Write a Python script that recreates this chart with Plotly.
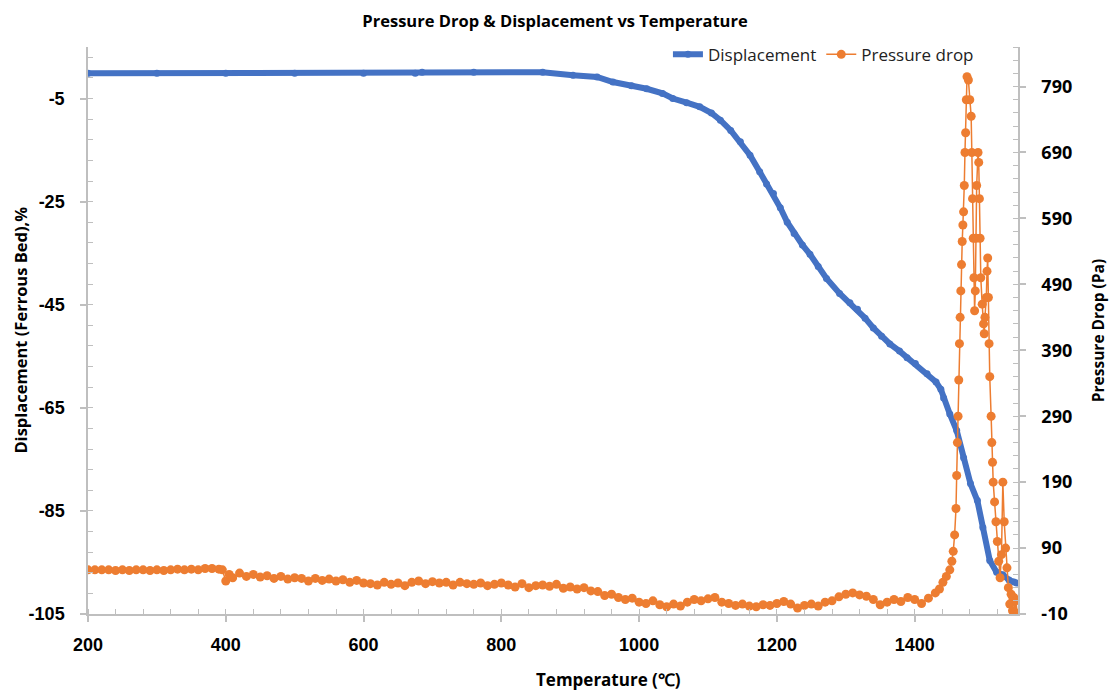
import plotly.graph_objects as go

# Displacement of the ferrous bed (%) against temperature (°C)
disp_temp = [200, 300, 400, 500, 600, 675, 685, 760, 860, 904, 939, 962, 989, 1011,
             1034, 1049, 1069, 1088, 1105, 1118, 1133, 1147, 1161, 1175, 1185, 1195,
             1205, 1215, 1225, 1237, 1248, 1260, 1272, 1291, 1306, 1317, 1328, 1340,
             1352, 1364, 1378, 1389, 1401, 1418, 1431, 1438, 1442, 1451, 1461, 1471,
             1481, 1491, 1499, 1509, 1519, 1528, 1537, 1544, 1548]
disp_val = [-0.1, -0.1, -0.1, -0.1, -0.1, -0.1, 0.1, 0.1, 0.1, -0.5, -0.8, -1.8, -2.5, -3.1,
            -4.0, -5.0, -5.8, -6.6, -7.8, -9.2, -11.2, -13.4, -16.0, -19.2, -21.6, -23.4,
            -26.2, -29.0, -31.2, -33.4, -35.2, -37.6, -39.9, -42.8, -44.6, -45.9, -47.6, -49.5,
            -51.1, -52.6, -54.0, -55.3, -56.4, -58.4, -60.0, -61.4, -63.1, -66.2, -69.4, -74.7,
            -79.7, -83.0, -88.2, -94.6, -96.9, -97.4, -98.4, -98.8, -99.0]

# Pressure drop across the bed (Pa) against temperature (°C)
dp_temp = [200, 210, 220, 230, 240, 250, 260, 270, 280, 290, 300, 310, 320, 330, 340, 350,
           360, 370, 380, 390, 395, 400, 405, 410, 420, 430, 440, 450, 460, 470, 480, 490,
           500, 510, 520, 530, 540, 550, 560, 570, 580, 590, 600, 610, 620, 630, 640, 650,
           660, 670, 680, 690, 700, 710, 720, 730, 740, 750, 760, 770, 780, 790, 800, 810,
           820, 830, 840, 850, 860, 870, 880, 890, 900, 910, 920, 930, 940, 950, 960, 970,
           980, 990, 1000, 1010, 1020, 1030, 1040, 1050, 1060, 1070, 1080, 1090, 1100, 1110,
           1120, 1130, 1140, 1150, 1160, 1170, 1180, 1190, 1200, 1210, 1220, 1230, 1240, 1250,
           1260, 1270, 1280, 1290, 1300, 1310, 1320, 1330, 1340, 1350, 1360, 1370, 1380, 1390,
           1400, 1410, 1420, 1430, 1436, 1441, 1446, 1451, 1454, 1456, 1458, 1460, 1461, 1462,
           1463, 1464, 1465, 1466, 1467, 1468, 1469, 1470, 1471, 1472, 1473, 1474, 1475, 1476,
           1478, 1480, 1482, 1483, 1484, 1485, 1486, 1487, 1488, 1489, 1490, 1492, 1493, 1494,
           1495, 1496, 1498, 1500, 1501, 1502, 1504, 1505, 1506, 1507, 1508, 1509, 1511, 1512,
           1513, 1514, 1516, 1518, 1520, 1522, 1524, 1526, 1528, 1530, 1532, 1534, 1536, 1538,
           1540, 1542, 1544, 1546, 1547, 1549]
dp_val = [57, 57, 57, 57, 56, 57, 56, 57, 57, 56, 57, 56, 57, 58, 57, 58,
          57, 59, 59, 58, 57, 40, 50, 45, 52, 47, 50, 46, 48, 44, 47, 43,
          45, 44, 40, 44, 41, 43, 40, 42, 38, 41, 37, 36, 34, 38, 35, 37,
          33, 38, 40, 36, 39, 37, 38, 34, 38, 36, 35, 37, 33, 35, 37, 34,
          31, 36, 30, 33, 34, 32, 35, 29, 31, 28, 30, 25, 24, 18, 20, 15,
          12, 14, 8, 6, 10, 4, 1, 5, 2, 8, 12, 10, 13, 15,
          8, 6, 3, 5, 2, 1, 4, 3, 6, 9, 5, -1, 3, 5,
          2, 8, 10, 16, 20, 22, 19, 17, 12, 4, 8, 12, 9, 15,
          12, 6, 14, 22, 28, 38, 47, 57, 70, 85, 110, 150, 200, 250,
          290, 345, 400, 440, 480, 520, 555, 580, 600, 640, 690, 720, 770, 805,
          800, 770, 745, 690, 620, 560, 500, 450, 480, 560, 640, 690, 675, 620,
          560, 500, 460, 430, 415, 440, 470, 510, 530, 470, 400, 350, 290, 250,
          220, 190, 160, 130, 100, 70, 45, 80, 190, 130, 90, 60, 30, 5,
          20, -5, 15, -8, 10, -10]

# Axis tick values and their printed labels
x_ticks = [200, 400, 600, 800, 1000, 1200, 1400]
disp_ticks = [-105, -85, -65, -45, -25, -5]
disp_tick_text = ["-105", "-85", "-65", "-45", "-25", "-5"]
dp_ticks = [-10, 90, 190, 290, 390, 490, 590, 690, 790]
dp_tick_text = ["-10", "90", "190", "290", "390", "490", "590", "690", "790"]

BLUE = "#4472C4"
ORANGE = "#ED7D31"
AXIS_GREY = "#BFBFBF"

fig = go.Figure()

fig.add_trace(go.Scatter(
    x=disp_temp, y=disp_val, name="Displacement",
    mode="lines+markers",
    line=dict(color=BLUE, width=6),
    marker=dict(color=BLUE, size=7),
    yaxis="y",
))

fig.add_trace(go.Scatter(
    x=dp_temp, y=dp_val, name="Pressure drop",
    mode="lines+markers",
    line=dict(color=ORANGE, width=1.5),
    marker=dict(color=ORANGE, size=9),
    yaxis="y2",
))


def bold(labels):
    return ["<b>%s</b>" % s for s in labels]


fig.update_layout(
    width=1110, height=691,
    margin=dict(l=88, r=92, t=47, b=77, autoexpand=False),
    paper_bgcolor="white", plot_bgcolor="white",
    showlegend=True,
    legend=dict(orientation="h", x=0.958, xanchor="right", y=1.018, yanchor="top",
                font=dict(family="Open Sans", size=17, color="#222"),
                bgcolor="rgba(0,0,0,0)", itemwidth=30, tracegroupgap=0),
    title=dict(text="<b>Pressure Drop & Displacement vs Temperature</b>",
               x=0.5, xanchor="center", y=0.97, yanchor="middle",
               font=dict(family="Open Sans", size=16.5, color="black")),
    xaxis=dict(
        range=[200, 1550], automargin=False,
        tickmode="array", tickvals=x_ticks, ticktext=bold([str(v) for v in x_ticks]),
        showgrid=False, zeroline=False,
        showline=True, linecolor=AXIS_GREY, linewidth=1.5,
        ticks="outside", ticklen=6, tickcolor=AXIS_GREY, tickwidth=1.5,
        tickfont=dict(family="Liberation Sans", size=18, color="black"),
        ticklabelstandoff=8,
        minor=dict(dtick=40, tick0=200, ticks="inside", ticklen=5,
                   tickcolor=AXIS_GREY, tickwidth=1),
    ),
    yaxis=dict(
        range=[-105, 5], automargin=False,
        tickmode="array", tickvals=disp_ticks, ticktext=bold(disp_tick_text),
        showgrid=False, zeroline=False,
        showline=True, linecolor=AXIS_GREY, linewidth=1.5,
        ticks="outside", ticklen=6, tickcolor=AXIS_GREY, tickwidth=1.5,
        tickfont=dict(family="Liberation Sans", size=18, color="black"),
        ticklabelstandoff=12,
        minor=dict(dtick=4, tick0=-105, ticks="inside", ticklen=5,
                   tickcolor=AXIS_GREY, tickwidth=1),
    ),
    yaxis2=dict(
        overlaying="y", side="right", automargin=False,
        range=[-10, 850],
        tickmode="array", tickvals=dp_ticks, ticktext=bold(dp_tick_text),
        showgrid=False, zeroline=False,
        showline=True, linecolor=AXIS_GREY, linewidth=1.5,
        ticks="outside", ticklen=6, tickcolor=AXIS_GREY, tickwidth=1.5,
        tickfont=dict(family="Open Sans", size=18, color="black"),
        ticklabelstandoff=12,
        minor=dict(dtick=20, tick0=-10, ticks="inside", ticklen=5,
                   tickcolor=AXIS_GREY, tickwidth=1),
        title=dict(text="<b>Pressure Drop (Pa)</b>",
                   font=dict(family="Open Sans", size=15.5, color="black"), standoff=22),
    ),
    annotations=[
        dict(text="<b>Temperature (℃)</b>", xref="paper", yref="paper",
             x=0.56, y=-0.115, xanchor="center", yanchor="middle", showarrow=False,
             font=dict(family="Open Sans", size=17, color="black")),
        dict(text="<b>Displacement (Ferrous Bed),%</b>", xref="paper", yref="paper",
             x=-0.073, y=0.5, xanchor="center", yanchor="middle", showarrow=False,
             textangle=-90, font=dict(family="Open Sans", size=16.5, color="black")),
    ],
)

fig.write_html("out.html")
